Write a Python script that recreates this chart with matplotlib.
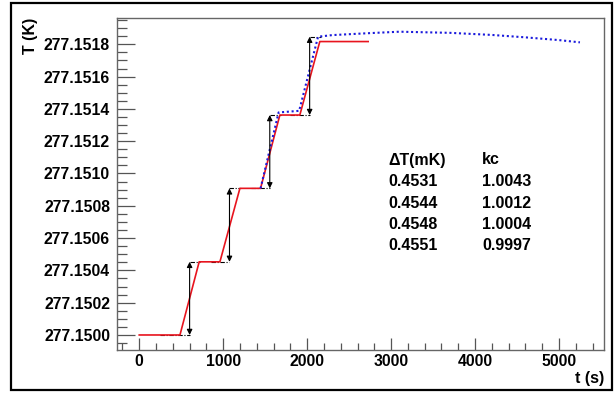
import numpy as np
import matplotlib
matplotlib.use("Agg")
import matplotlib.pyplot as plt
from matplotlib.ticker import MultipleLocator, FormatStrFormatter
from matplotlib.patches import Rectangle

plt.rcParams['font.family'] = ['Liberation Sans', 'DejaVu Sans']
plt.rcParams['font.weight'] = 'bold'

# Red step curve (time in s, temperature in K)
red_t = [0, 485, 714, 961, 1199, 1445, 1675, 1913, 2151, 2727]
red_T = [277.1500, 277.1500, 277.150453, 277.150453, 277.150908, 277.150908,
         277.151362, 277.151362, 277.151817, 277.151817]

# Blue dotted curve
blue_t = [1445, 1660, 1905, 2130, 2300, 2700, 3100, 3700, 4200, 4600, 5000, 5250]
blue_T = [277.150908, 277.151378, 277.151388, 277.151847, 277.151857, 277.151868,
          277.151878, 277.151871, 277.151858, 277.151843, 277.151826, 277.151812]

# Double arrows marking each step
arrow_t = [600, 1075, 1555, 2030]
arrow_lo = [277.1500, 277.150453, 277.150908, 277.151362]
arrow_hi = [277.150453, 277.150908, 277.151362, 277.151847]

# dash-dot guide lines at the levels
guide_lo_start = [250, 850, 1330, 1800]
guide_hi_end = [725, 1210, 1685, 2160]

# table
table_head = ["\u0394T(mK)", "kc"]
table_dT = ["0.4531", "0.4544", "0.4548", "0.4551"]
table_kc = ["1.0043", "1.0012", "1.0004", "0.9997"]

fig = plt.figure(figsize=(6.14, 3.94), dpi=100)
ax = fig.add_axes([117 / 614, 1 - 350 / 394, (604.3 - 117) / 614, (350 - 18.3) / 394])

for i in range(len(arrow_t)):
    ax.plot([guide_lo_start[i], arrow_t[i]], [arrow_lo[i], arrow_lo[i]],
            color='k', lw=0.8, ls=(0, (4, 1.5, 1, 1.5)), zorder=2)
    ax.plot([arrow_t[i], guide_hi_end[i]], [arrow_hi[i], arrow_hi[i]],
            color='k', lw=0.8, ls=(0, (4, 1.5, 1, 1.5)), zorder=2)

ax.plot(red_t, red_T, color='#e8141e', lw=1.2, zorder=3)
ax.plot(blue_t, blue_T, color='#1a1adc', lw=1.5, ls=(0, (1, 1.3)), zorder=4)

for i in range(len(arrow_t)):
    ax.annotate('', xy=(arrow_t[i], arrow_hi[i]), xytext=(arrow_t[i], arrow_lo[i]),
                arrowprops=dict(arrowstyle='<|-|>', color='k', lw=0.8,
                                mutation_scale=8, shrinkA=0, shrinkB=0),
                zorder=5)

ax.set_xlim(-265, 5540)
ax.set_ylim(277.149907, 277.151961)

ax.xaxis.set_major_locator(MultipleLocator(1000))
ax.xaxis.set_minor_locator(MultipleLocator(200))
ax.yaxis.set_major_locator(MultipleLocator(0.0002))
ax.yaxis.set_minor_locator(MultipleLocator(0.00005))
ax.yaxis.set_major_formatter(FormatStrFormatter('%.4f'))

ax.tick_params(axis='both', which='both', direction='in', colors='#555555',
               labelcolor='black', labelsize=11.3, width=0.9)
ax.tick_params(axis='y', which='major', length=13, pad=5)
ax.tick_params(axis='y', which='minor', length=7)
ax.tick_params(axis='x', which='major', length=9, pad=3)
ax.tick_params(axis='x', which='minor', length=5)
for lab in ax.get_xticklabels() + ax.get_yticklabels():
    lab.set_fontweight('bold')
for s in ax.spines.values():
    s.set_color('#666666')
    s.set_linewidth(1.0)

fig.text(604 / 614, 1 - 378 / 394, "t (s)", ha='right', va='center', fontsize=11.5,
         fontweight='bold')
fig.text(31 / 614, 1 - 18 / 394, "T (K)", ha='center', va='top', rotation=90,
         fontsize=11.5, fontweight='bold')

x1 = (388 - 117) / 487.3
x2 = (482 - 117) / 487.3
y0 = (350 - 160) / 331.7
dy = 21.5 / 331.7
ax.text(x1, y0, table_head[0], transform=ax.transAxes, fontsize=11.5,
        fontweight='bold', va='center', ha='left')
ax.text(x2, y0, table_head[1], transform=ax.transAxes, fontsize=11.5,
        fontweight='bold', va='center', ha='left')
for i in range(len(table_dT)):
    y = y0 - (i + 1) * dy
    ax.text(x1, y, table_dT[i], transform=ax.transAxes, fontsize=11.5,
            fontweight='bold', va='center', ha='left')
    ax.text(x2, y, table_kc[i], transform=ax.transAxes, fontsize=11.5,
            fontweight='bold', va='center', ha='left')

# outer frame around the canvas
fig.patches.append(Rectangle((11 / 614, 1 - 390 / 394), (612 - 11) / 614, (390 - 3) / 394,
                             transform=fig.transFigure, fill=False, edgecolor='black',
                             lw=1.6))

fig.savefig("out.png", dpi=100)
